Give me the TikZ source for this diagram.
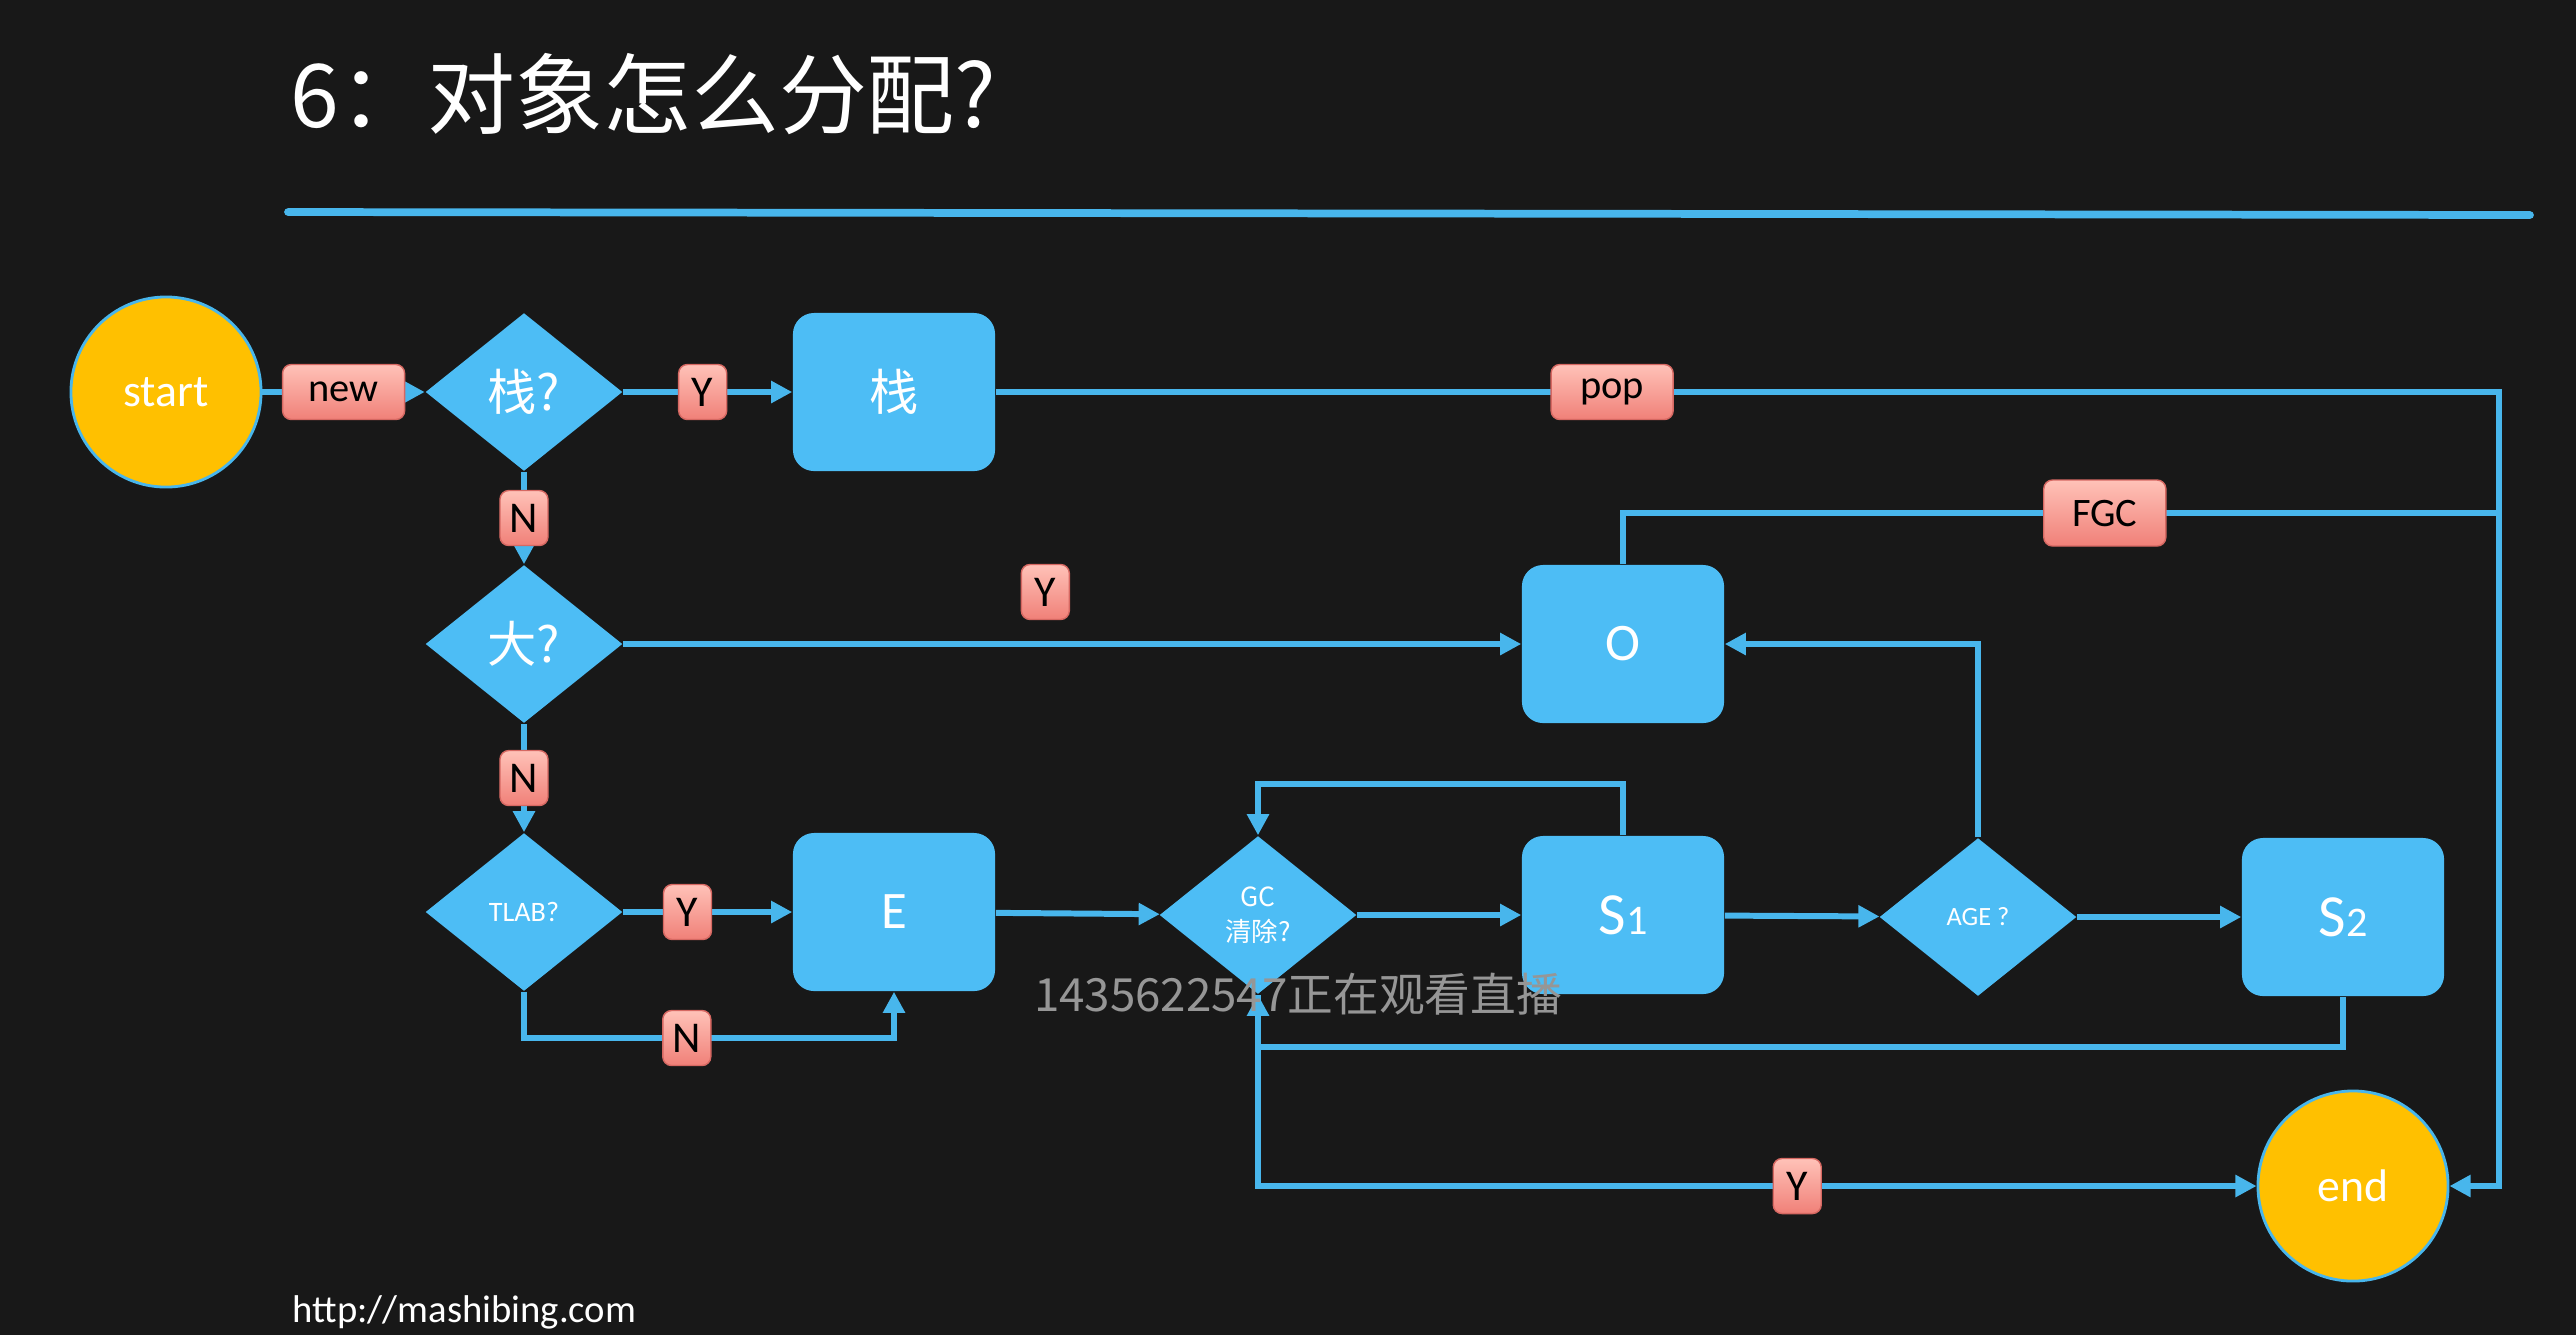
\documentclass[tikz,border=0pt]{standalone}
\usepackage{fontspec}
\setmainfont{Carlito}
\newfontfamily\cjk{Noto Sans CJK SC}
\usepackage{tikz}
\usetikzlibrary{arrows.meta, shapes.geometric, positioning, calc}

\definecolor{jvmboard}    {RGB}{ 24,  24,  24}
\definecolor{jvmblue}     {RGB}{ 77, 189, 245}
\definecolor{jvmline}     {RGB}{ 72, 182, 236}
\definecolor{jvmgold}     {RGB}{255, 192,   0}
\definecolor{jvmpinktop}  {RGB}{255, 194, 184}
\definecolor{jvmpinkbot}  {RGB}{240, 128, 120}
\definecolor{jvmpinkedge} {RGB}{214, 104,  98}
\definecolor{jvmgray}     {RGB}{150, 150, 150}

\newcommand{\gennum}[1]{{\fontsize{12pt}{12pt}\selectfont #1}}

\tikzset{
	flow/.style={draw=jvmline, line width=1.7pt, -{Triangle[length=6pt,width=6pt]}},
	wire/.style={draw=jvmline, line width=1.7pt},
	ask/.style={diamond, fill=jvmblue, inner sep=0pt, minimum width=1.97cm, minimum height=1.58cm,
		text=white, align=center, font=\cjk\fontsize{14pt}{16pt}\selectfont},
	space/.style={rectangle, rounded corners=6pt, fill=jvmblue, minimum width=2.02cm, minimum height=1.58cm,
		text=white, font=\fontsize{15pt}{17pt}\selectfont},
	term/.style={circle, fill=jvmgold, draw=jvmline, line width=0.8pt, minimum size=1.9cm,
		text=white, font=\fontsize{13pt}{15pt}\selectfont},
	tag/.style={rectangle, rounded corners=2.5pt, top color=jvmpinktop, bottom color=jvmpinkbot,
		draw=jvmpinkedge, line width=0.4pt, inner sep=0pt, minimum width=0.48cm, minimum height=0.55cm,
		text=black, font=\fontsize{12.5pt}{14pt}\selectfont},
	wordtag/.style={tag, minimum width=1.22cm, font=\fontsize{11.5pt}{13pt}\selectfont},
}

\begin{document}
\begin{tikzpicture}[x=0.01cm, y=-0.01cm]
	\fill[jvmboard] (0,0) rectangle (2576,1335);
	\useasboundingbox (0,0) rectangle (2576,1335);

	% title and rule
	\node[anchor=west, inner sep=0pt, text=white, font=\cjk\fontsize{25pt}{29pt}\selectfont] (title) at (290,94) {6：对象怎么分配?};
	\draw[jvmline, line width=2.2pt, line cap=round] (288,212) -- (2530,215);

	% nodes
	\node[term] (start) at (166,392) {start};
	\node[ask] (q1) at (524,392) {栈?};
	\node[space, font=\cjk\fontsize{14pt}{16pt}\selectfont] (stack) at (894,392) {栈};
	\node[ask] (q2) at (524,644) {大?};
	\node[space] (old) at (1623,644) {O};
	\node[ask, font=\fontsize{8pt}{9pt}\selectfont] (q3) at (524,912) {TLAB?};
	\node[space] (eden) at (894,912) {E};
	\node[ask, font=\cjk\fontsize{7.5pt}{10pt}\selectfont] (q4) at (1258,915) {GC\\清除?};
	\node[space, font=\fontsize{17pt}{19pt}\selectfont] (s1) at (1623,915) {S\gennum{1}};
	\node[ask, font=\fontsize{7.5pt}{9pt}\selectfont] (q5) at (1978,917) {AGE ?};
	\node[space, font=\fontsize{17pt}{19pt}\selectfont] (s2) at (2343,917) {S\gennum{2}};
	\node[term] (stop) at (2353,1186) {end};

	\coordinate (rail) at (2499,0);
	\coordinate (fgcjoin) at (2499,513);
	\coordinate (nlow) at (0,1038);
	\coordinate (ret) at (0,1047);

	% connectors
	\draw[flow] (start) -- node[wordtag, midway] {new} (q1);
	\draw[flow] (q1) -- node[tag, pos=0.47] {Y} (stack);
	\draw[flow] (stack) -- node[wordtag, pos=0.41] {pop} (stack -| rail) |- (stop);
	\draw[wire] (old) |- node[wordtag, pos=0.775, minimum height=0.66cm] {FGC} (fgcjoin);
	\draw[flow] (q1) -- node[tag, midway] {N} (q2);
	\draw[flow] (q2) -- node[tag, pos=0.47, yshift=0.52cm] {Y} (old);
	\draw[flow] (q2) -- node[tag, midway] {N} (q3);
	\draw[flow] (q3) -- node[tag, pos=0.38] {Y} (eden);
	\draw[flow] (q3) |- node[tag, pos=0.72] {N} (eden.south |- nlow) -- (eden);
	\draw[flow] (eden) -- (q4);
	\draw[flow] (q4) -- (s1);
	\draw[flow] (s1.north) -- ++(0,-51) -| (q4);
	\draw[flow] (s1) -- (q5);
	\draw[flow] (q5) |- (old);
	\draw[flow] (q5) -- (s2);
	\draw[flow] (s2) |- (q4.south |- ret) -- (q4);
	\draw[flow] (q4) |- node[tag, pos=0.77] {Y} (stop);

	% overlay texts
	\node[text=jvmgray, font=\cjk\fontsize{13pt}{15pt}\selectfont] (viewer) at (1298,994) {1435622547正在观看直播};
	\node[anchor=base west, inner sep=0pt, text=white, font=\fontsize{11pt}{13pt}\selectfont] (site) at (292,1322) {http://mashibing.com};
\end{tikzpicture}
\end{document}
